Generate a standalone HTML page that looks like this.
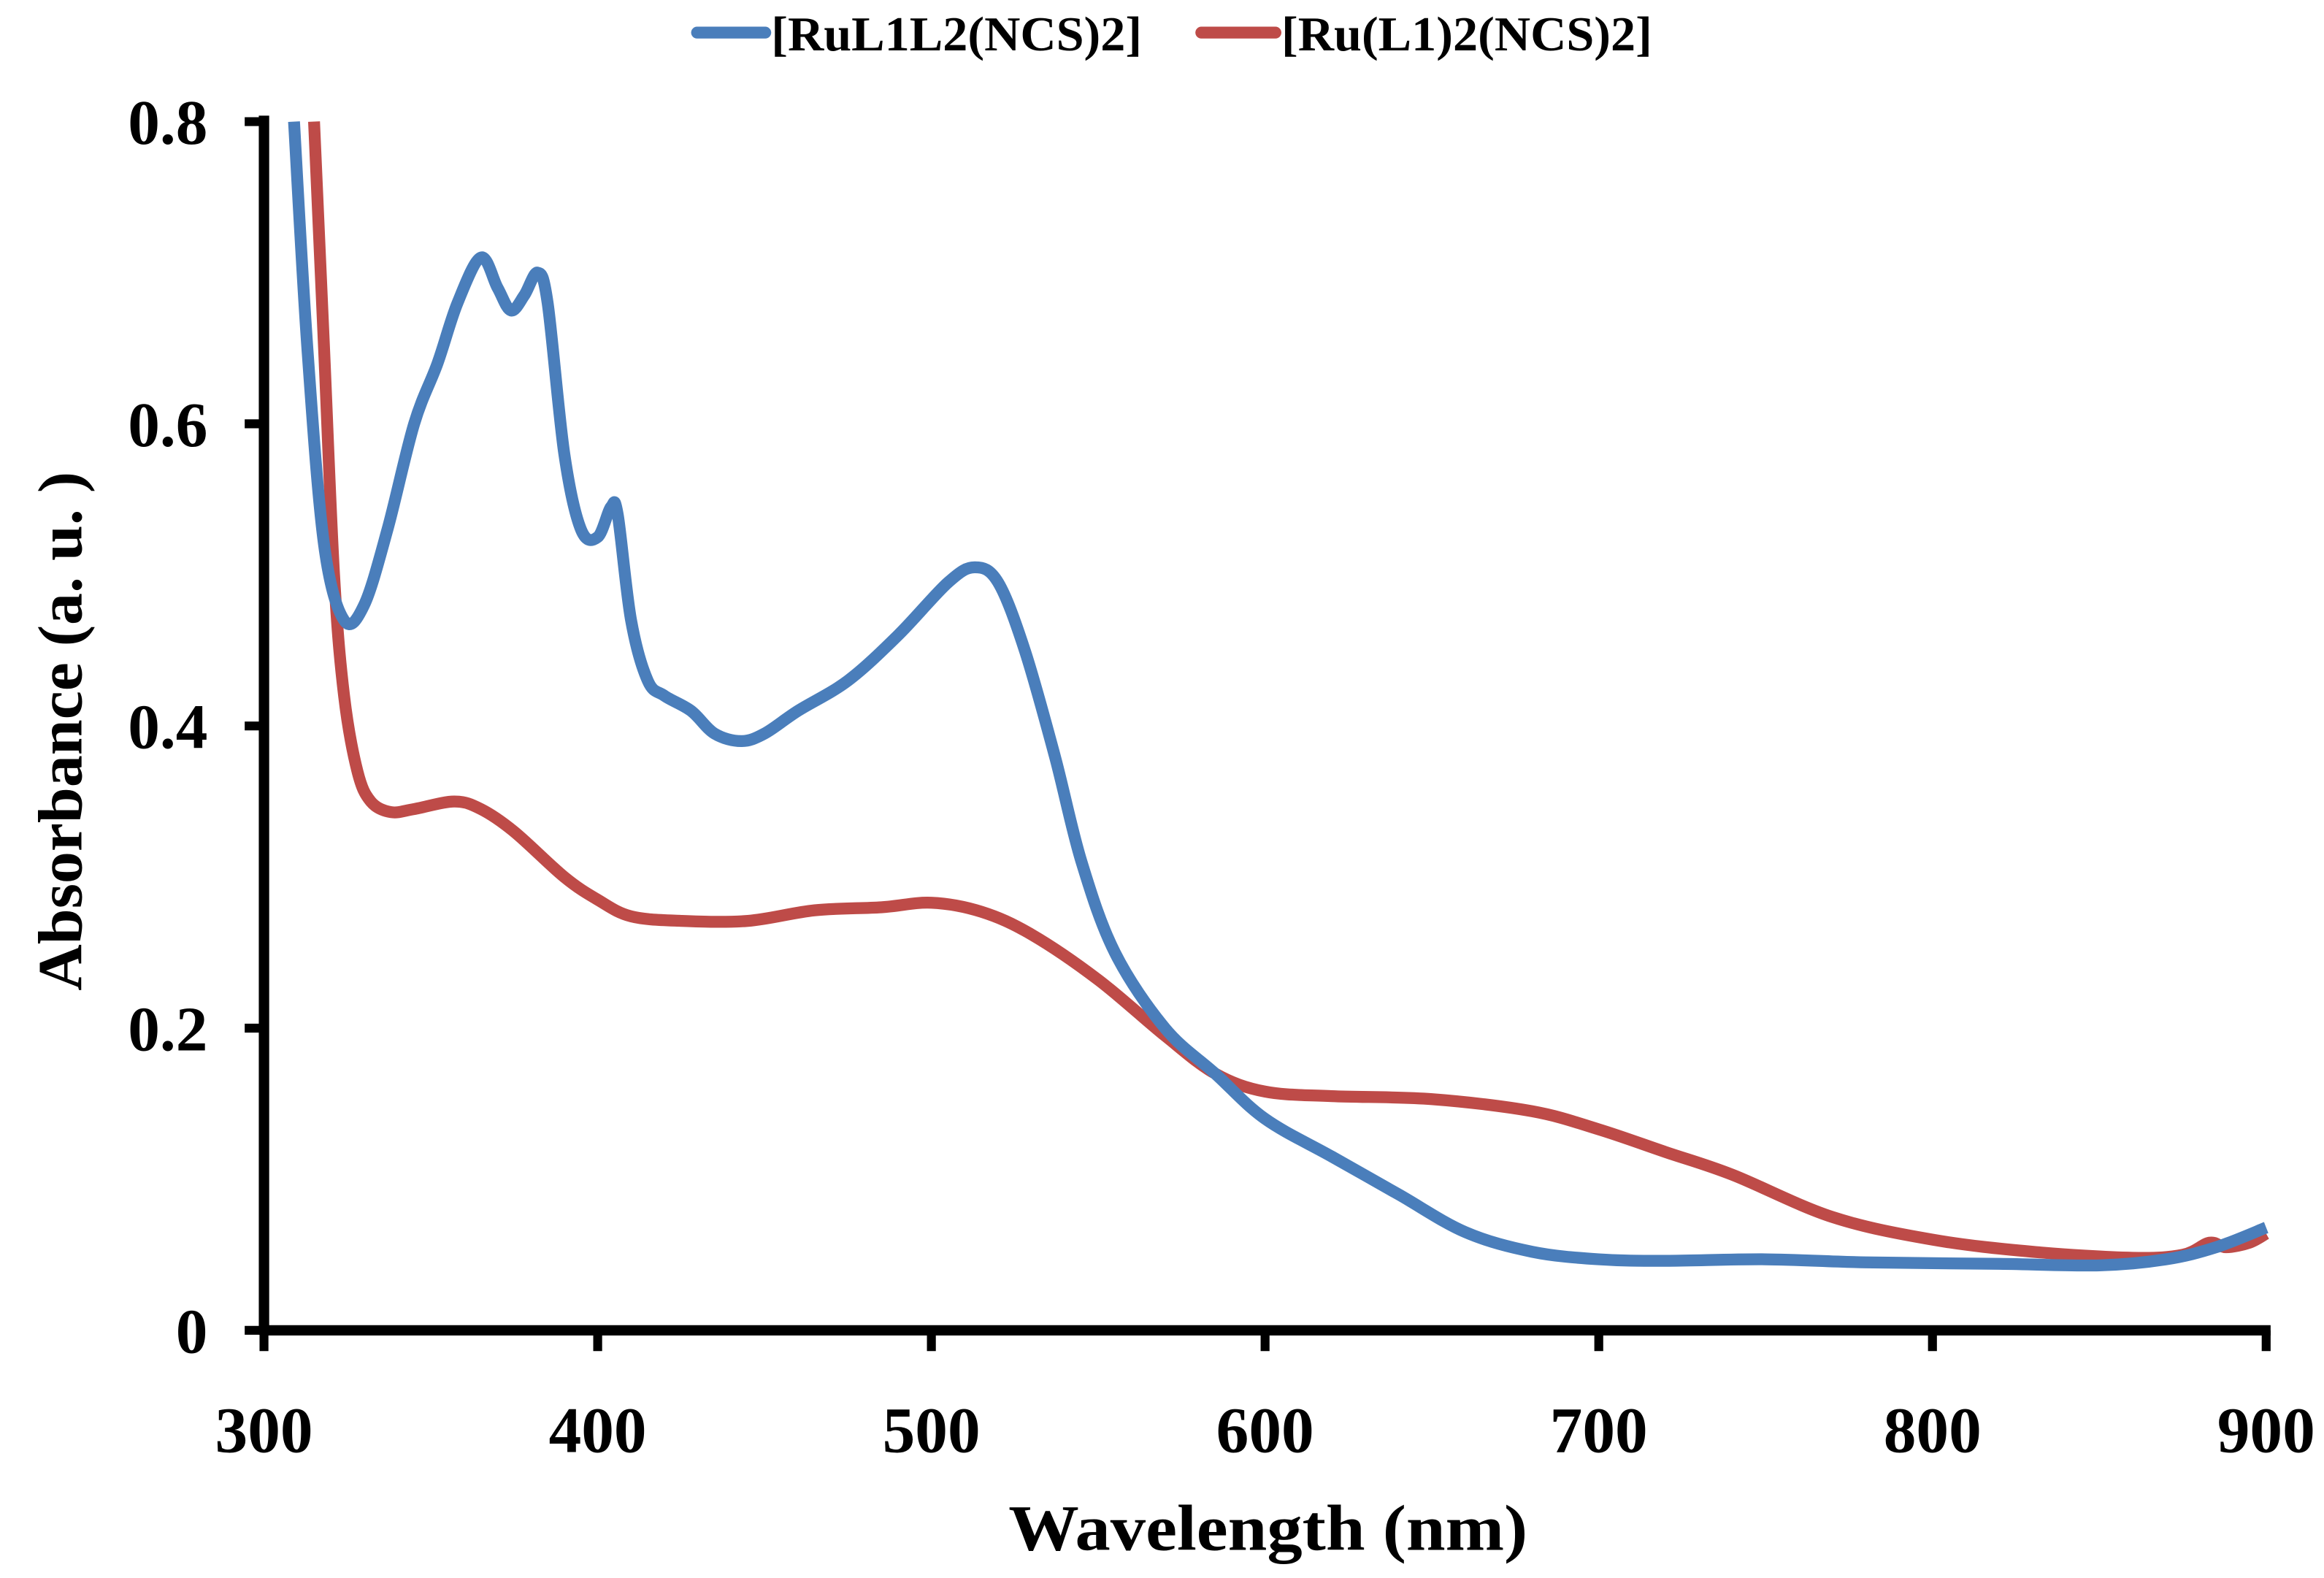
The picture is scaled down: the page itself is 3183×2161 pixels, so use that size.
<!DOCTYPE html>
<html><head><meta charset="utf-8"><style>
html,body{margin:0;padding:0;background:#fff}
svg{display:block}
text{font-family:"Liberation Serif",serif;font-weight:bold;fill:#000}
</style></head><body>
<svg id="chart" width="3183" height="2161" viewBox="0 0 1567 1064" preserveAspectRatio="none" xmlns="http://www.w3.org/2000/svg">
<defs><clipPath id="clip"><rect x="179" y="80" width="1360" height="820"/></clipPath></defs>
<g>
<line x1="470" y1="22" x2="516" y2="22" stroke="#4A7EBB" stroke-width="8" stroke-linecap="round"/>
<text x="520" y="34" font-size="33" textLength="250" lengthAdjust="spacingAndGlyphs">[RuL1L2(NCS)2]</text>
<line x1="810" y1="22" x2="860" y2="22" stroke="#BE4B48" stroke-width="8" stroke-linecap="round"/>
<text x="864" y="34" font-size="33" textLength="250" lengthAdjust="spacingAndGlyphs">[Ru(L1)2(NCS)2]</text>
</g>
<g id="axes"></g>
<g id="series" clip-path="url(#clip)"></g>
<text x="855" y="1045" font-size="44" text-anchor="middle" textLength="350" lengthAdjust="spacingAndGlyphs">Wavelength (nm)</text>
<text transform="translate(55,493) rotate(-90)" font-size="42" text-anchor="middle" textLength="350" lengthAdjust="spacingAndGlyphs">Absorbance (a. u. )</text>
</svg>
<script>
const xTicks=[300,400,500,600,700,800,900];
const yTicks=[0,0.2,0.4,0.6,0.8];
const yTickLabels=["0","0.2","0.4","0.6","0.8"];
const blueX=[309,313,318,324,330,337,345,352,358,365,370,374,378,382,385,390,395,400,404,406,410,415,420,428,435,443,450,460,475,490,505,513,520,528,537,545,555,570,585,600,620,640,660,680,700,720,750,780,820,850,870,885,900];
const blueY=[0.8,0.65,0.52,0.47,0.48,0.53,0.6,0.64,0.68,0.71,0.69,0.675,0.685,0.70,0.68,0.58,0.53,0.525,0.545,0.54,0.47,0.43,0.42,0.41,0.395,0.39,0.395,0.41,0.43,0.46,0.495,0.505,0.495,0.45,0.38,0.31,0.25,0.20,0.17,0.14,0.115,0.09,0.065,0.052,0.047,0.046,0.047,0.045,0.044,0.043,0.047,0.055,0.068];
const redX=[315,318,321,324,328,332,338,345,357,365,375,390,400,410,425,445,465,485,500,515,530,550,570,585,600,620,650,680,700,720,740,770,800,830,860,875,883,888,895,900];
const redY=[0.8,0.65,0.5,0.42,0.37,0.35,0.343,0.345,0.35,0.345,0.33,0.3,0.285,0.274,0.271,0.271,0.278,0.28,0.283,0.277,0.262,0.232,0.195,0.17,0.158,0.155,0.153,0.145,0.133,0.118,0.103,0.075,0.06,0.052,0.048,0.05,0.058,0.055,0.058,0.064];
const NS="http://www.w3.org/2000/svg";
const sx=v=>178+(v-300)*(1350/600);
const sy=v=>897-v*(815/0.8);
const axes=document.getElementById('axes');
function mk(tag,attrs,parent){const e=document.createElementNS(NS,tag);for(const k in attrs)e.setAttribute(k,attrs[k]);parent.appendChild(e);return e;}
let e=mk('line',{x1:178,y1:78,x2:178,y2:900,stroke:'#000','stroke-width':7},axes);


e=mk('line',{x1:175,y1:897,x2:1531,y2:897,stroke:'#000','stroke-width':7},axes);


xTicks.forEach(v=>{
 let t=mk('line',{x1:sx(v),y1:897,x2:sx(v),y2:911,stroke:'#000','stroke-width':6},axes);
 
 
 let l=mk('text',{x:sx(v),y:979,'font-size':44,'text-anchor':'middle'},axes);l.textContent=v;
 
 
});
yTicks.forEach((v,i)=>{
 let t=mk('line',{x1:165,y1:sy(v),x2:178,y2:sy(v),stroke:'#000','stroke-width':6},axes);
 
 
 let l=mk('text',{x:140,y:sy(v)+15,'font-size':43,'text-anchor':'end'},axes);l.textContent=yTickLabels[i];
 
 
});
function pathD(xs,ys){
 const p=xs.map((x,i)=>[sx(x),sy(ys[i])]);
 let d='M'+p[0][0]+','+p[0][1];
 for(let i=0;i<p.length-1;i++){
  const p0=p[Math.max(0,i-1)],p1=p[i],p2=p[i+1],p3=p[Math.min(p.length-1,i+2)];
  const c1=[p1[0]+(p2[0]-p0[0])/6,p1[1]+(p2[1]-p0[1])/6];
  const c2=[p2[0]-(p3[0]-p1[0])/6,p2[1]-(p3[1]-p1[1])/6];
  d+=` C${c1[0]},${c1[1]} ${c2[0]},${c2[1]} ${p2[0]},${p2[1]}`;
 }
 return d;
}
const g=document.getElementById('series');
let r=mk('path',{d:pathD(redX,redY),fill:'none',stroke:'#BE4B48','stroke-width':8,'stroke-linejoin':'round'},g);


let b=mk('path',{d:pathD(blueX,blueY),fill:'none',stroke:'#4A7EBB','stroke-width':8,'stroke-linejoin':'round'},g);


</script>
</body></html>
